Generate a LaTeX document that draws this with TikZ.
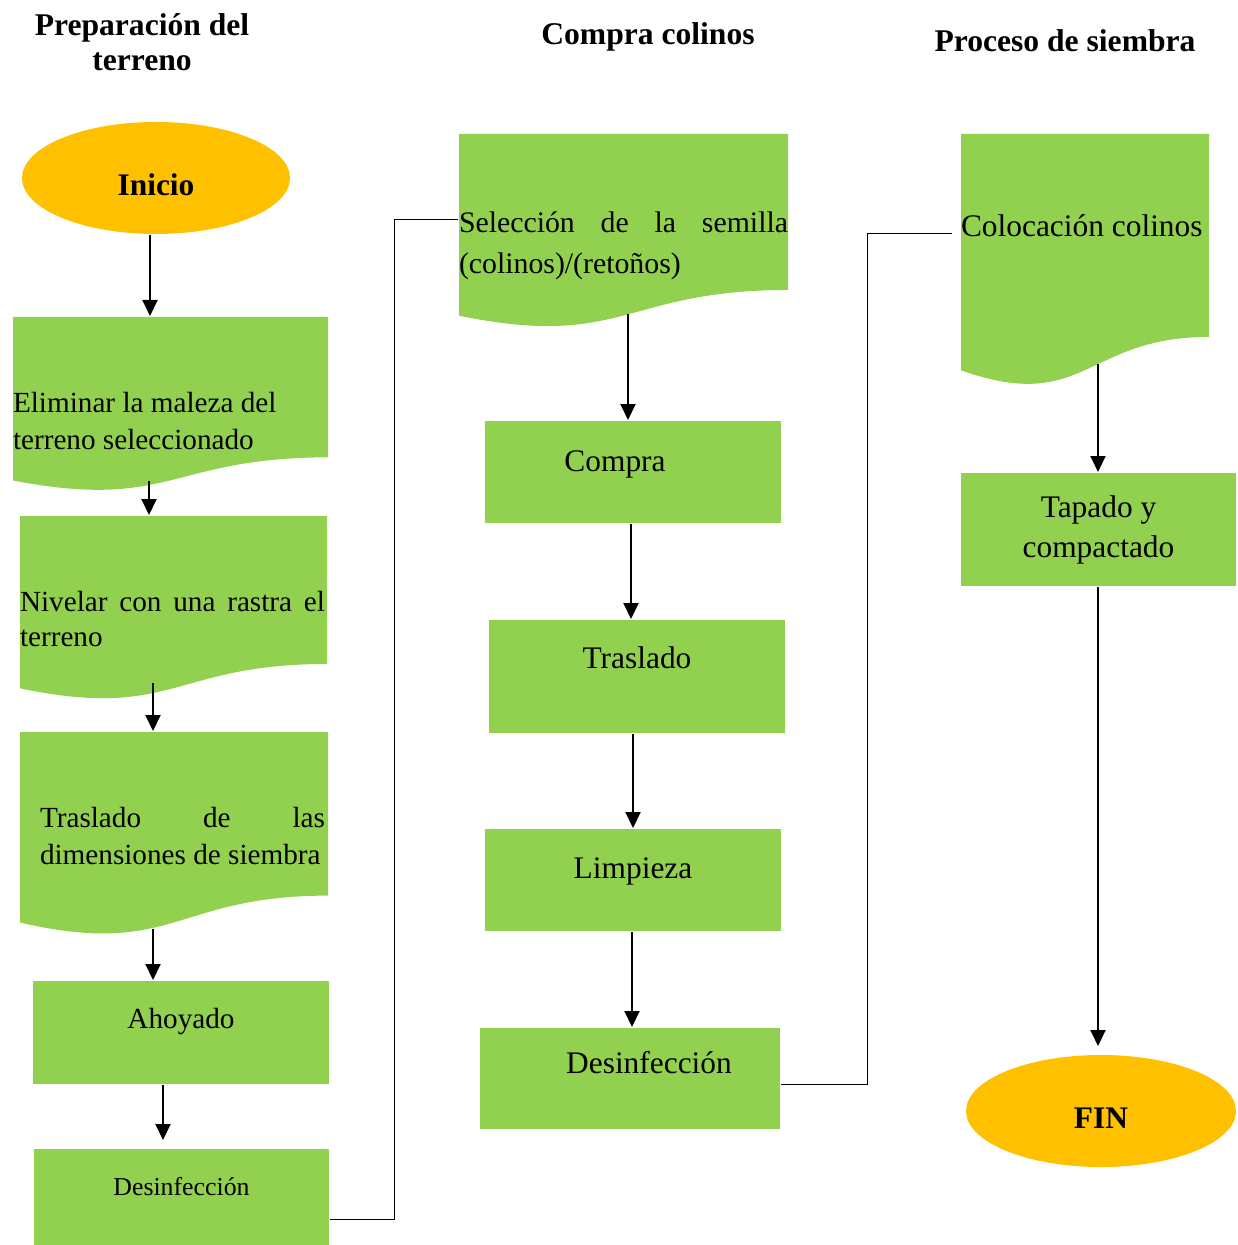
\documentclass[tikz,border=0pt]{standalone}
\usepackage{fontspec}
\setmainfont{Liberation Serif}
\usetikzlibrary{arrows.meta,calc,shapes.geometric}
\definecolor{leaf}{HTML}{92D050}
\definecolor{sun}{HTML}{FFC000}
\newcommand{\bigtxt}{\fontsize{15.7}{19}\selectfont}
\newcommand{\midtxt}{\fontsize{14.6}{18.5}\selectfont}
\hyphenpenalty=10000
\exhyphenpenalty=10000

\begin{document}
\begin{tikzpicture}[x=0.5pt,y=-0.5pt,->,>={Triangle[length=8pt,width=7.5pt]},line width=1pt,
  proc/.style={rectangle,fill=leaf,inner sep=0pt},
  doc/.style={rectangle,inner sep=0pt,path picture={
    \fill[leaf,-] (path picture bounding box.north west) -- (path picture bounding box.north east)
      -- ($(path picture bounding box.north east)!0.802!(path picture bounding box.south east)$)
      .. controls ($(path picture bounding box.north)!0.802!(path picture bounding box.south)$)
      and ($(path picture bounding box.north)!1.108!(path picture bounding box.south)$)
      .. ($(path picture bounding box.north west)!0.934!(path picture bounding box.south west)$) -- cycle;}},
  term/.style={ellipse,fill=sun,inner sep=0pt,font=\bigtxt\bfseries},
  head/.style={align=center,font=\fontsize{15.8}{17.5}\selectfont\bfseries},
  tag/.style={inner sep=0pt,font=\bigtxt},
  txt/.style={inner sep=0pt,anchor=west},
  link/.style={-,line width=0.5pt}]
  \useasboundingbox (0,0) rectangle (1237,1245);
  % headings
  \node[head] (h1) at (142,42) {Preparación del\\terreno};
  \node[head] (h2) at (648,37) {Compra colinos};
  \node[head] (h3) at (1065,41) {Proceso de siembra};
  % preparacion del terreno
  \node[term,minimum width=134pt,minimum height=56pt,text height=17.6pt] (inicio) at (156,178) {Inicio};
  \node[doc,minimum width=157.5pt,minimum height=87.5pt] (elim) at (170.5,404.5) {};
  \node[txt,align=left,font=\midtxt] (elim-t) at ([yshift=-8.5pt]elim.west) {Eliminar la maleza del\\terreno seleccionado};
  \node[doc,minimum width=153.5pt,minimum height=92.25pt] (nivel) at (173.5,608.25) {};
  \node[txt,text width=152.5pt,align=justify,font=\fontsize{14.6}{17.5}\selectfont] (nivel-t) at ([yshift=-5.6pt]nivel.west) {Nivelar con una rastra el terreno};
  \node[doc,minimum width=154pt,minimum height=102pt] (dimen) at (174,834) {};
  \node[txt,text width=142.5pt,align=justify,font=\midtxt] (dimen-t) at ([xshift=10pt,yshift=-1.25pt]dimen.west) {Traslado de las dimensiones de siembra};
  \node[proc,minimum width=148pt,minimum height=51.5pt,label={[tag,name=ahoy-t,yshift=5.25pt,font=\midtxt]center:Ahoyado}] (ahoy) at (181,1032.5) {};
  \node[proc,minimum width=147.5pt,minimum height=48pt,label={[tag,name=desA-t,yshift=5pt,font=\fontsize{12.9}{15}\selectfont]center:Desinfección}] (desA) at (181.5,1197) {};
  % compra colinos
  \node[doc,minimum width=164.5pt,minimum height=97.25pt] (selec) at (623.5,231.25) {};
  \node[txt,text width=164.5pt,align=justify,font=\fontsize{14.9}{20.5}\selectfont] (selec-t) at ([yshift=-7.1pt]selec.west) {Selección de la semilla (colinos)/(retoños)};
  \node[proc,minimum width=148pt,minimum height=51pt,label={[tag,name=compra-t,xshift=-9pt,yshift=4pt]center:Compra}] (compra) at (633,472) {};
  \node[proc,minimum width=148pt,minimum height=56.5pt,label={[tag,name=trasl-t,yshift=9.25pt]center:Traslado}] (trasl) at (637,676.5) {};
  \node[proc,minimum width=148pt,minimum height=51pt,label={[tag,name=limp-t,yshift=4.5pt]center:Limpieza}] (limp) at (633,880) {};
  \node[proc,minimum width=150pt,minimum height=50.5pt,label={[tag,name=desB-t,xshift=9.5pt,yshift=7.75pt]center:Desinfección}] (desB) at (630,1078.5) {};
  % proceso de siembra
  \node[doc,minimum width=124pt,minimum height=126.5pt] (coloc) at (1085,260.5) {};
  \node[txt,font=\bigtxt] (coloc-t) at ([yshift=17.25pt]coloc.west) {Colocación colinos};
  \node[proc,minimum width=137.5pt,minimum height=56.5pt,label={[tag,name=tapado-t,align=center,font=\fontsize{15.7}{20}\selectfont]center:Tapado y\\compactado}] (tapado) at (1098.5,529.5) {};
  \node[term,minimum width=135pt,minimum height=56pt,text height=17.2pt] (fin) at (1101,1111) {FIN};

  \path ([xshift=-3pt]inicio.south) edge ([xshift=-10.25pt]elim.north);
  \path ([xshift=-10.75pt,yshift=6pt]elim.south) edge ([xshift=-12.25pt]nivel.north);
  \path ([xshift=-10.25pt,yshift=9.25pt]nivel.south) edge ([xshift=-10.5pt]dimen.north);
  \path ([xshift=-10.5pt,yshift=4pt]dimen.south) edge ([xshift=-14pt]ahoy.north);
  \path ([xshift=-9pt]ahoy.south) edge ([xshift=-9.25pt,yshift=4pt]desA.north);
  \draw[link] ([yshift=-11pt]desA.east) -- ++(64,0) |- ([yshift=6pt]selec.west);
  \path ([xshift=2.25pt,yshift=7.75pt]selec.south) edge ([xshift=-2.5pt]compra.north);
  \path ([xshift=-1pt]compra.south) edge ([xshift=-3pt]trasl.north);
  \path ([xshift=-2pt]trasl.south) edge (limp.north);
  \path ([xshift=-0.5pt]limp.south) edge ([xshift=1pt]desB.north);
  \draw[link] ([yshift=-2.75pt]desB.east) -- ++(86,0) |- ([xshift=-4pt,yshift=13.25pt]coloc.west);
  \path ([xshift=6.5pt,yshift=12pt]coloc.south) edge ([xshift=-0.25pt]tapado.north);
  \path ([xshift=-0.25pt]tapado.south) edge ([xshift=-1.5pt,yshift=4pt]fin.north);
\end{tikzpicture}
\end{document}
